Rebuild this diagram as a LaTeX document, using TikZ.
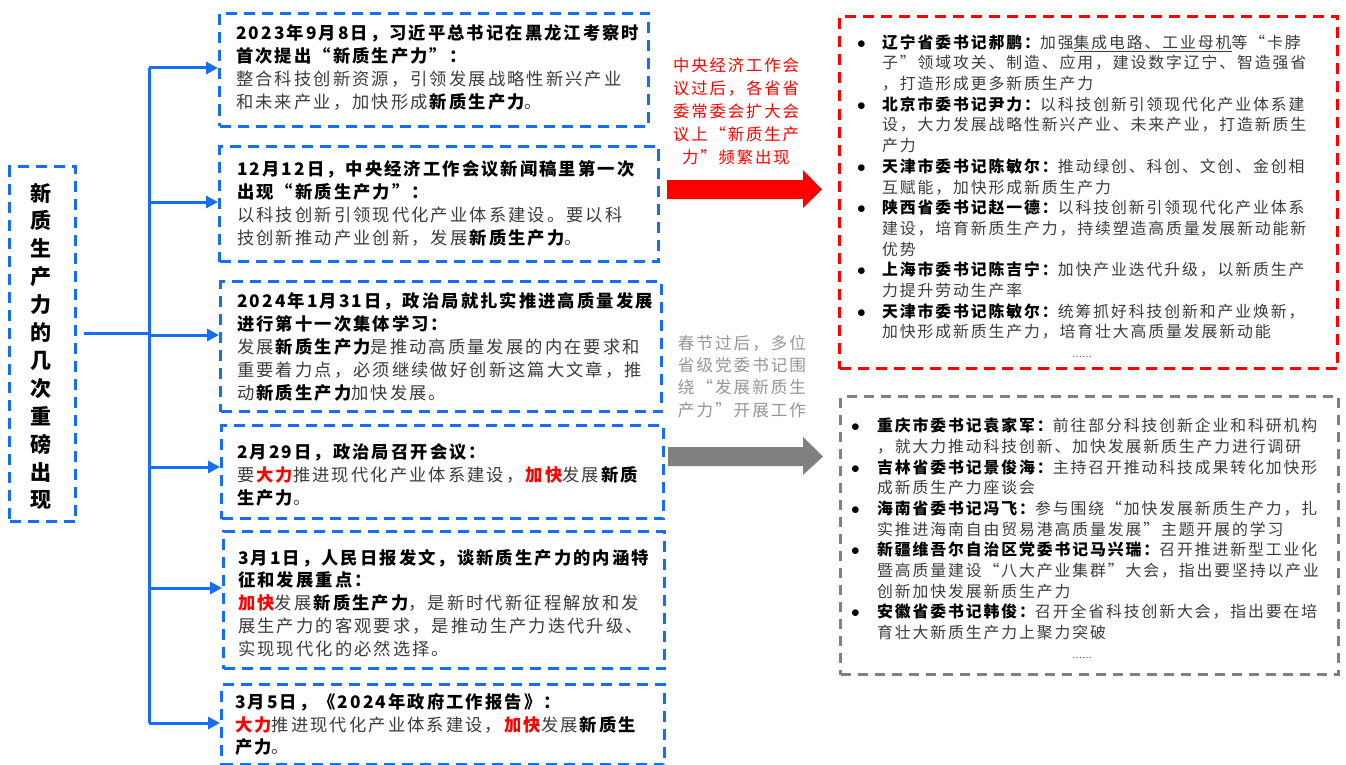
\documentclass[tikz,border=0pt]{standalone}
\usepackage{fontspec}
\setmainfont{Noto Sans CJK SC}
\newfontfamily\bodyf{Noto Sans CJK SC}[LetterSpace=12]
\usetikzlibrary{arrows.meta,calc}
\definecolor{myblue}{RGB}{22,110,245}
\definecolor{myred}{RGB}{255,0,0}
\definecolor{mygray}{RGB}{128,128,128}
\definecolor{txtgray}{RGB}{60,60,60}
\definecolor{softgray}{RGB}{150,150,150}
\newcommand{\hl}[1]{\textbf{\color{myred}#1}}
\newcommand{\xz}[1]{\textbf{\color{black}#1}}
\newcommand{\bul}{\makebox[25pt][l]{\color{black}$\bullet$}}
\newcommand{\ind}{\hspace*{25pt}}
\newcommand{\bulg}{\makebox[26pt][l]{\color{black}$\bullet$}}
\newcommand{\indg}{\hspace*{26pt}}
\begin{document}
\begin{tikzpicture}[x=1pt,y=-1pt,
  bluebox/.style={draw=myblue, line width=3pt, dash pattern=on 11pt off 7pt, rectangle, inner sep=0pt, anchor=north west},
  redbox/.style={draw=myred, line width=3pt, dash pattern=on 11pt off 7pt, rectangle, inner sep=0pt, anchor=north west},
  graybox/.style={draw=mygray, line width=3pt, dash pattern=on 10pt off 7pt, rectangle, inner sep=0pt, anchor=north west},
  conn/.style={draw=myblue, line width=3pt},
  arr/.style={conn, -{Triangle[length=12pt,width=12pt]}},
  boxtext/.style={anchor=west, align=left, inner sep=0pt, text=txtgray, font=\bodyf\fontsize{17.3}{22.8}\selectfont},
  righttext/.style={anchor=west, align=left, inner sep=0pt, text=txtgray, font=\bodyf\fontsize{15.85}{20.7}\selectfont},
]
\useasboundingbox (0,0) rectangle (1346,765);
\fill[white] (0,0) rectangle (1346,765);

% left title box
\node[bluebox, minimum width=66pt, minimum height=355pt] (L) at (8,165) {};
\node[align=center, inner sep=0pt, font=\bfseries\fontsize{21}{27.9}\selectfont] (Lt) at (41,346.5)
  {新\\质\\生\\产\\力\\的\\几\\次\\重\\磅\\出\\现};

% event boxes
\node[bluebox, minimum width=429pt, minimum height=113pt] (b1) at (218,12) {};
\node[bluebox, minimum width=439pt, minimum height=115pt] (b2) at (218,145) {};
\node[bluebox, minimum width=441pt, minimum height=130pt] (b3) at (219,280) {};
\node[bluebox, minimum width=442pt, minimum height=93pt] (b4) at (220,424) {};
\node[bluebox, minimum width=441pt, minimum height=137pt] (b5) at (222,530) {};
\node[bluebox, minimum width=443pt, minimum height=80pt] (b6) at (220,683) {};

\node[boxtext] (t1) at (236,67.5) {%
\xz{2023年9月8日，习近平总书记在黑龙江考察时}\\
\xz{首次提出“新质生产力”：}\\
整合科技创新资源，引领发展战略性新兴产业\\
和未来产业，加快形成\xz{新质生产力}。};

\node[boxtext] (t2) at (237,203.5) {%
\xz{12月12日，中央经济工作会议新闻稿里第一次}\\
\xz{出现“新质生产力”：}\\
以科技创新引领现代化产业体系建设。要以科\\
技创新推动产业创新，发展\xz{新质生产力}。};

\node[boxtext] (t3) at (237,347) {%
\xz{2024年1月31日，政治局就扎实推进高质量发展}\\
\xz{进行第十一次集体学习：}\\
发展\xz{新质生产力}是推动高质量发展的内在要求和\\
重要着力点，必须继续做好创新这篇大文章，推\\
动\xz{新质生产力}加快发展。};

\node[boxtext] (t4) at (237,475) {%
\xz{2月29日，政治局召开会议：}\\
要\hl{大力}推进现代化产业体系建设，\hl{加快}发展\xz{新质}\\
\xz{生产力}。};

\node[boxtext] (t5) at (238,603) {%
\xz{3月1日，人民日报发文，谈新质生产力的内涵特}\\
\xz{征和发展重点：}\\
\hl{加快}发展\xz{新质生产力}，是新时代新征程解放和发\\
展生产力的客观要求，是推动生产力迭代升级、\\
实现现代化的必然选择。};

\node[boxtext] (t6) at (235,724.5) {%
\xz{3月5日，《2024年政府工作报告》：}\\
\hl{大力}推进现代化产业体系建设，\hl{加快}发展\xz{新质生}\\
\xz{产力}。};

% connectors
\coordinate (m) at (149,333);
\coordinate (p1) at (149,68);
\coordinate (p2) at (149,202);
\coordinate (p3) at (149,335);
\coordinate (p4) at (149,467);
\coordinate (p5) at (149,588);
\coordinate (p6) at (149,723);
\draw[conn] ($(L.east |- m)+(7,0)$) -- (m);
\draw[conn] (p1) -- (p6);
\draw[arr] (p1) -- (b1.west |- p1);
\draw[arr] (p2) -- (b2.west |- p2);
\draw[arr] (p3) -- (b3.west |- p3);
\draw[arr] (p4) -- (b4.west |- p4);
\draw[arr] (p5) -- (b5.west |- p5);
\draw[arr] (p6) -- (b6.west |- p6);

% middle labels and block arrows
\node[align=center, inner sep=0pt, text=myred, font=\bodyf\fontsize{16.3}{23}\selectfont] (redlab) at (736,111)
  {中央经济工作会\\议过后，各省省\\委常委会扩大会\\议上“新质生产\\力”频繁出现};
\fill[myred] (667,180) -- (803,180) -- (803,170) -- (822,189.5) -- (803,208) -- (803,199) -- (667,199) -- cycle;

\node[align=left, inner sep=0pt, text=softgray, font=\bodyf\fontsize{16.6}{22.3}\selectfont] (graylab) at (742,376.5)
  {春节过后，多位\\省级党委书记围\\绕“发展新质生\\产力”开展工作};
\fill[mygray] (668,447) -- (803,447) -- (803,437) -- (823,456.5) -- (803,475) -- (803,466) -- (668,466) -- cycle;

% right red box
\node[redbox, minimum width=498pt, minimum height=352pt] (R) at (838,15) {};
\node[righttext] (rt) at (857,187) {%
\bul\xz{辽宁省委书记郝鹏：}加强\underline{集成电路、工业母机}等“卡脖\\
\ind 子”领域攻关、制造、应用，建设数字辽宁、智造强省\\
\ind ，打造形成更多新质生产力\\
\bul\xz{北京市委书记尹力：}以科技创新引领现代化产业体系建\\
\ind 设，大力发展战略性新兴产业、未来产业，打造新质生\\
\ind 产力\\
\bul\xz{天津市委书记陈敏尔：}推动绿创、科创、文创、金创相\\
\ind 互赋能，加快形成新质生产力\\
\bul\xz{陕西省委书记赵一德：}以科技创新引领现代化产业体系\\
\ind 建设，培育新质生产力，持续塑造高质量发展新动能新\\
\ind 优势\\
\bul\xz{上海市委书记陈吉宁：}加快产业迭代升级，以新质生产\\
\ind 力提升劳动生产率\\
\bul\xz{天津市委书记陈敏尔：}统筹抓好科技创新和产业焕新，\\
\ind 加快形成新质生产力，培育壮大高质量发展新动能};
\node[inner sep=0pt, text=txtgray, font=\fontsize{9}{10}\selectfont] (rdots) at (1082,357) {……};

% right gray box
\node[graybox, minimum width=498pt, minimum height=278pt] (G) at (839,395) {};
\node[righttext] (gt) at (851,529) {%
\bulg\xz{重庆市委书记袁家军：}前往部分科技创新企业和科研机构\\
\indg ，就大力推动科技创新、加快发展新质生产力进行调研\\
\bulg\xz{吉林省委书记景俊海：}主持召开推动科技成果转化加快形\\
\indg 成新质生产力座谈会\\
\bulg\xz{海南省委书记冯飞：}参与围绕“加快发展新质生产力，扎\\
\indg 实推进海南自由贸易港高质量发展”主题开展的学习\\
\bulg\xz{新疆维吾尔自治区党委书记马兴瑞：}召开推进新型工业化\\
\indg 暨高质量建设“八大产业集群”大会，指出要坚持以产业\\
\indg 创新加快发展新质生产力\\
\bulg\xz{安徽省委书记韩俊：}召开全省科技创新大会，指出要在培\\
\indg 育壮大新质生产力上聚力突破};
\node[inner sep=0pt, text=txtgray, font=\fontsize{9}{10}\selectfont] (gdots) at (1082,658) {……};
\end{tikzpicture}
\end{document}
